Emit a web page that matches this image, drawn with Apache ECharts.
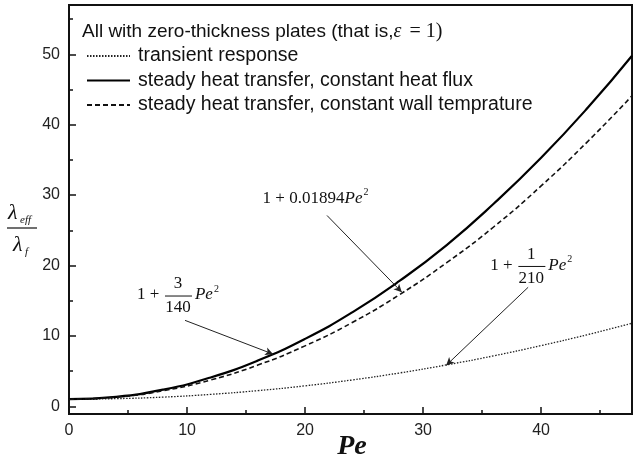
<!DOCTYPE html>
<html><head><meta charset="utf-8">
<script src="https://cdn.jsdelivr.net/npm/echarts@6/dist/echarts.min.js"></script>
<style>html,body{margin:0;padding:0;background:#fff}#c{width:633px;height:462px}</style>
</head><body><div id="c"></div>
<script>
// ---- data ----
const pe        = [0, 4, 8, 12, 16, 20, 24, 28, 32, 36, 40, 44, 47.7];
const transient = [1.0, 1.08, 1.30, 1.69, 2.22, 2.90, 3.74, 4.73, 5.88, 7.17, 8.62, 10.2, 11.8];
const heatFlux  = [1.0, 1.34, 2.37, 4.09, 6.49, 9.57, 13.34, 17.8, 22.9, 28.8, 35.3, 42.5, 49.8];
const wallTemp  = [1.0, 1.30, 2.21, 3.73, 5.85, 8.58, 11.9, 15.85, 20.4, 25.5, 31.3, 37.7, 44.1];
const seriesNames = ['transient response', 'steady heat transfer, constant heat flux', 'steady heat transfer, constant wall temprature'];
const xMajor = [0, 10, 20, 30, 40];
const xMinor = [5, 15, 25, 35, 45];
const yMajor = [0, 10, 20, 30, 40, 50];
const yMinor = [5, 15, 25, 35, 45, 55];
// annotation arrows [from, to] in data units
const arrowFlux  = [[9.83, 12.2], [17.3, 7.4]];
const arrowWall  = [[21.86, 27.1], [28.2, 16.2]];
const arrowTrans = [[38.9, 16.9], [31.95, 5.8]];
// annotation anchors (left edge of "1+") in data units
const anchorWall  = [16.4, 29.5];
const anchorFlux  = [5.76, 15.8];
const anchorTrans = [35.7, 20.0];

const chart = echarts.init(document.getElementById('c'), null, {renderer: 'canvas'});
const SANS = 'Liberation Sans, Arial, sans-serif';
const SERIF = 'Liberation Serif, Times New Roman, serif';
function pts(ys) { return pe.map((x, i) => [x, ys[i]]); }
const axisCol = '#111';

const option = {
  animation: false,
  backgroundColor: '#fff',
  title: {
    text: '{t|All with zero-thickness plates (that is,}{e|ε}{m| = 1)}',
    left: 77, top: 17,
    textStyle: {
      rich: {
        t: {fontFamily: SANS, fontSize: 19, fontWeight: 'normal', color: '#111'},
        e: {fontFamily: SERIF, fontSize: 20, fontStyle: 'italic', fontWeight: 'normal', color: '#111'},
        m: {fontFamily: SERIF, fontSize: 20, fontWeight: 'normal', color: '#111', padding: [0, 0, 0, 3]}
      }
    }
  },
  legend: {
    data: seriesNames,
    orient: 'vertical', left: 81, top: 41,
    itemWidth: 43, itemHeight: 10, itemGap: 4.5,
    itemStyle: {opacity: 0, borderWidth: 0},
    textStyle: {fontFamily: SANS, fontSize: 19.5, color: '#111', padding: [0, 0, 0, 3]}
  },
  grid: {left: 69, right: 1, top: 5, bottom: 48, show: true, borderColor: axisCol, borderWidth: 2,
         containLabel: false, outerBoundsMode: 'none'},
  xAxis: [{
    type: 'value', min: 0, max: 47.7,
    axisLine: {onZero: false, lineStyle: {color: axisCol, width: 2}},
    axisTick: {inside: true, length: 7, customValues: xMajor, lineStyle: {color: axisCol, width: 1.5}},
    axisLabel: {customValues: xMajor, fontFamily: SANS, fontSize: 16, color: '#222', margin: 9},
    splitLine: {show: false}
  }, {
    type: 'value', min: 0, max: 47.7, position: 'bottom',
    axisLine: {show: false, onZero: false},
    axisTick: {inside: true, length: 4, customValues: xMinor, lineStyle: {color: axisCol, width: 1.5}},
    axisLabel: {show: false}, splitLine: {show: false}
  }],
  yAxis: [{
    type: 'value', min: -1.1, max: 57,
    axisLine: {show: true, onZero: false, lineStyle: {color: axisCol, width: 2}},
    axisTick: {show: true, inside: true, length: 7, customValues: yMajor, lineStyle: {color: axisCol, width: 1.5}},
    axisLabel: {customValues: yMajor, fontFamily: SANS, fontSize: 16, color: '#222', margin: 9},
    splitLine: {show: false}
  }, {
    type: 'value', min: -1.1, max: 57, position: 'left', offset: 0,
    axisLine: {show: false, onZero: false},
    axisTick: {show: true, inside: true, length: 4, customValues: yMinor, lineStyle: {color: axisCol, width: 1.5}},
    axisLabel: {show: false}, splitLine: {show: false}
  }],
  series: [{
    name: seriesNames[0], type: 'line', data: pts(transient), smooth: true, symbol: 'none',
    lineStyle: {color: '#222', width: 1.3, type: [1.5, 1.5]}, itemStyle: {color: '#222'},
    markLine: {
      silent: true, symbol: ['none', 'arrow'], symbolSize: [6, 8],
      label: {show: false},
      lineStyle: {color: '#222', width: 1, type: 'solid'},
      data: [arrowFlux, arrowWall, arrowTrans].map(a => [{coord: a[0]}, {coord: a[1]}])
    }
  }, {
    name: seriesNames[1], type: 'line', data: pts(heatFlux), smooth: true, symbol: 'none',
    lineStyle: {color: '#000', width: 2.2, type: 'solid'}, itemStyle: {color: '#000'}
  }, {
    name: seriesNames[2], type: 'line', data: pts(wallTemp), smooth: true, symbol: 'none',
    lineStyle: {color: '#111', width: 1.6, type: [5, 3]}, itemStyle: {color: '#111'}
  }]
};
chart.setOption(option);

function txt(x, y, text, size, italic, align, bold) {
  return {type: 'text', x: x, y: y, silent: true, style: {
    text: text, fill: '#111', fontFamily: SERIF, fontSize: size, fontWeight: bold ? 'bold' : 'normal',
    fontStyle: italic ? 'italic' : 'normal', align: align || 'left', verticalAlign: 'middle'}};
}
function line(x1, y1, x2, y2, w) {
  return {type: 'line', silent: true, shape: {x1: x1, y1: y1, x2: x2, y2: y2}, style: {stroke: '#111', lineWidth: w || 1}};
}
function peSq(x, y) {
  return [txt(x, y, 'Pe', 17, true), txt(x + 19, y - 6, '2', 10, false)];
}
function fracLabel(anchor, num, den) {
  const p = chart.convertToPixel({xAxisIndex: 0, yAxisIndex: 0}, anchor);
  const ax = p[0], ay = p[1];
  return [
    txt(ax, ay, '1 +', 17, false),
    txt(ax + 41, ay - 11, num, 17, false, 'center'),
    line(ax + 28, ay + 1, ax + 55, ay + 1, 1),
    txt(ax + 41, ay + 13, den, 17, false, 'center')
  ].concat(peSq(ax + 58, ay));
}
function wallLabel(anchor) {
  const p = chart.convertToPixel({xAxisIndex: 0, yAxisIndex: 0}, anchor);
  return [txt(p[0], p[1], '1 + 0.01894', 17, false)].concat(peSq(p[0] + 82, p[1]));
}
const yName = [
  txt(8, 213, 'λ', 22, true), txt(20, 220, 'eff', 11, true),
  line(7, 228, 37, 228, 1.2),
  txt(13, 245, 'λ', 22, true), txt(25, 252, 'f', 11, true)
];
const xName = [txt(352, 447, 'Pe', 28, true, 'center', true)];
chart.setOption({graphic: [].concat(
  wallLabel(anchorWall),
  fracLabel(anchorFlux, '3', '140'),
  fracLabel(anchorTrans, '1', '210'),
  yName, xName
)});
</script></body></html>
